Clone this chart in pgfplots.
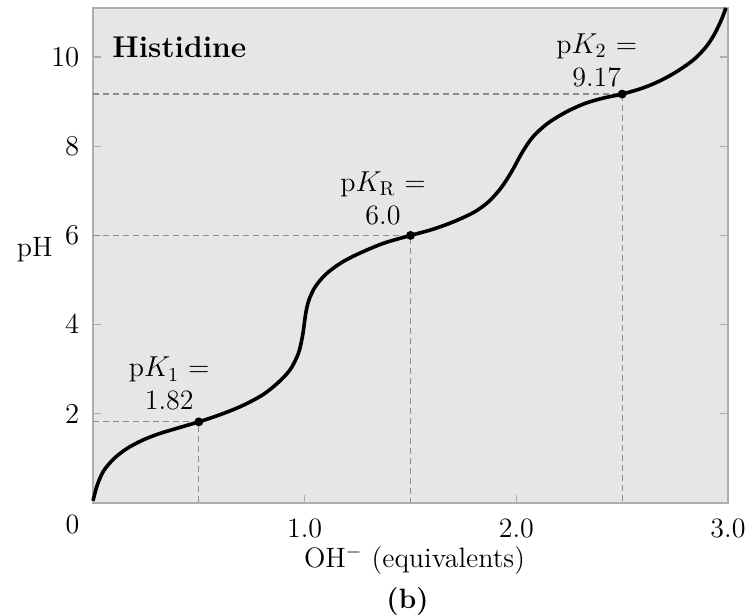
\documentclass[border=0pt]{standalone}
\usepackage{pgfplots}
\pgfplotsset{compat=1.18}
\usetikzlibrary{calc}
\definecolor{bggray}{HTML}{E6E6E6}
\definecolor{framegray}{HTML}{AEAEAE}
\definecolor{dashgray}{HTML}{8C8C8C}

\begin{document}
\begin{tikzpicture}
\fontsize{14}{16.5}\selectfont
\begin{axis}[
  scale only axis, width=317.5pt, height=247.5pt,
  xmin=0, xmax=3, ymin=0, ymax=11.1,
  xtick={1,2,3}, xticklabels={1.0,2.0,3.0},
  ytick={2,4,6,8,10},
  xtick pos=bottom, ytick pos=both, yticklabel pos=left,
  tick align=inside, major tick length=4pt,
  tick style={framegray, line width=0.6pt},
  axis line style={framegray, line width=0.8pt},
  axis background/.style={fill=bggray},
  tick label style={font=\fontsize{14}{16}\selectfont},
  xticklabel style={yshift=-3pt},
  yticklabel style={xshift=-2pt},
  clip=false,
]
  % guide lines at the pK points
  \addplot[dashgray, line width=0.6pt, dash pattern=on 3pt off 2pt] coordinates {(0,1.82) (0.5,1.82) (0.5,0)};
  \addplot[dashgray, line width=0.6pt, dash pattern=on 3pt off 2pt] coordinates {(0,6.0) (1.5,6.0) (1.5,0)};
  \addplot[dashgray, line width=0.6pt, dash pattern=on 3pt off 2pt] coordinates {(0,9.17) (2.5,9.17) (2.5,0)};

  % titration curve
  \addplot[black, line width=1.8pt, smooth, tension=0.5] coordinates {
    (0,0.05) (0.02,0.4) (0.05,0.72) (0.10,1.0) (0.16,1.22) (0.23,1.4) (0.31,1.55)
    (0.40,1.68) (0.50,1.82) (0.60,1.98) (0.70,2.17) (0.80,2.42) (0.87,2.68)
    (0.93,2.98) (0.97,3.35) (0.99,3.75) (1.005,4.25) (1.02,4.55) (1.05,4.85)
    (1.10,5.13) (1.17,5.38) (1.25,5.58) (1.37,5.82) (1.50,6.00) (1.60,6.13)
    (1.70,6.30) (1.80,6.52) (1.87,6.76) (1.93,7.08) (1.98,7.45) (2.03,7.88)
    (2.08,8.22) (2.15,8.52) (2.24,8.78) (2.33,8.97) (2.42,9.09) (2.50,9.17)
    (2.60,9.31) (2.68,9.47) (2.76,9.68) (2.84,9.95) (2.90,10.25) (2.94,10.55)
    (2.97,10.85) (2.99,11.1)};
  \addplot[only marks, mark=*, mark size=2pt, black] coordinates {(0.5,1.82) (1.5,6.0) (2.5,9.17)};

  \node[anchor=south, inner sep=0pt, align=center] at (axis cs:0.36,2.07) {p$K_1$ =\\1.82};
  \node[anchor=south, inner sep=0pt, align=center] at (axis cs:1.37,6.22) {p$K_{\mathrm{R}}$ =\\6.0};
  \node[anchor=south, inner sep=0pt, align=center] at (axis cs:2.38,9.32) {p$K_2$ =\\9.17};
  \node[anchor=west, inner sep=0pt, font=\fontsize{15}{17}\selectfont\bfseries] at (axis cs:0.09,10.22) {Histidine};

  \node[anchor=base east, inner sep=0pt] at (axis cs:0,6) [xshift=-20pt, yshift=-10.3pt] {pH};
  \node[inner sep=0pt] at (axis cs:0,0) [xshift=-10.2pt, yshift=-10.5pt] {0};
  \node[inner sep=0pt] at (rel axis cs:0.5,0) [xshift=2pt, yshift=-28.5pt] {OH$^{-}$ (equivalents)};
  \node[inner sep=0pt, font=\fontsize{14}{16}\selectfont\bfseries] at (rel axis cs:0.5,0) [xshift=-1.5pt, yshift=-49.5pt] {(b)};
\end{axis}
\pgfresetboundingbox
\path[use as bounding box] ($(current axis.south west)+(-46.5pt,-56pt)$) rectangle ($(current axis.north east)+(12pt,4pt)$);
\end{tikzpicture}
\end{document}
